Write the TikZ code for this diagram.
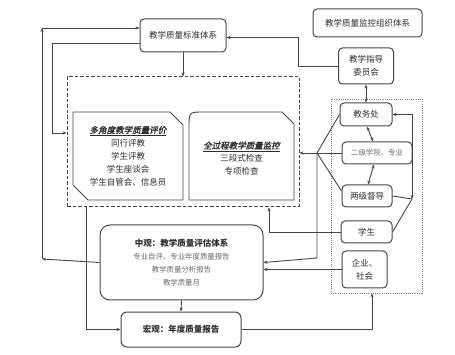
\documentclass[tikz,border=0pt]{standalone}
\usepackage{fontspec}
\setmainfont{Noto Sans CJK SC}
\newfontfamily\slantfont[FakeSlant=0.2,FakeBold=1.5]{Noto Sans CJK SC}
\usetikzlibrary{arrows.meta}
\definecolor{inkgray}{RGB}{70,70,70}
\definecolor{textgray}{RGB}{45,45,45}
\definecolor{subgray}{RGB}{105,105,105}

\begin{document}
\begin{tikzpicture}[x=1pt, y=-1pt,
    box/.style={draw=inkgray, line width=1pt, rounded corners=4pt, align=center, inner sep=0pt, text=textgray, font=\fontsize{8.5}{13}\selectfont},
    boxtext/.style={align=center, inner sep=0pt, text=textgray, font=\fontsize{8.5}{13}\selectfont},
    subtext/.style={text=subgray, font=\fontsize{7.4}{13}\selectfont},
    arr/.style={-{Stealth[length=4pt,width=3.2pt]}, draw=inkgray, line width=0.9pt},
    arrboth/.style={{Stealth[length=4pt,width=3.2pt]}-{Stealth[length=4pt,width=3.2pt]}, draw=inkgray, line width=0.9pt},
    link/.style={draw=inkgray, line width=0.9pt}]
  \useasboundingbox (0,0) rectangle (455,355);
  % frames
  \node[draw=inkgray, line width=1pt, dash pattern=on 3.5pt off 2pt, minimum width=232pt, minimum height=130pt, inner sep=0pt] (evalframe) at (183,142) {};
  \node[draw=gray, line width=0.7pt, dash pattern=on 1pt off 1.2pt, minimum width=91pt, minimum height=194pt, inner sep=0pt] (orgframe) at (376.5,196) {};
  % top boxes
  \node[box, minimum width=86pt, minimum height=33pt] (std) at (183,35.5) {教学质量标准体系};
  \node[box, minimum width=109pt, minimum height=28pt] (org) at (367.5,23) {教学质量监控组织体系};
  \node[box, minimum width=55pt, minimum height=36pt] (comm) at (366,66) {教学指导\\委员会};
  % inner evaluation boxes
  \draw[inkgray, line width=0.9pt] (73,112) -- (170,112) -- (183,125) -- (183,200) -- (88,200) -- (73,185) -- cycle;
  \node[boxtext] (multi) at (128,156) {\underline{\slantfont 多角度教学质量评价}\\同行评教\\学生评教\\学生座谈会\\学生自管会、信息员};
  \draw[inkgray, line width=0.9pt] (189,200) -- (189,127) .. controls (189,112) .. (204,112) -- (282,112) -- (294,124) -- (294,200) -- cycle;
  \node[boxtext] (monitor) at (241.5,158.5) {\underline{\slantfont 全过程教学质量监控}\\三段式检查\\专项检查};
  % organisation
  \node[box, minimum width=52pt, minimum height=23pt] (jwc) at (366,114.5) {教务处};
  \node[box, minimum width=70pt, minimum height=22pt] (college) at (377,153) {\color{subgray}\fontsize{7.4}{13}\selectfont 二级学院、专业};
  \node[box, minimum width=50pt, minimum height=22pt] (supv) at (367,196) {两级督导};
  \node[box, minimum width=51pt, minimum height=22pt] (stu) at (366.5,232) {学生};
  \node[box, minimum width=45pt, minimum height=37pt] (ent) at (364.5,269.5) {企业、\\社会};
  % reports
  \node[box, rounded corners=10pt, minimum width=163pt, minimum height=75pt] (meso) at (181.5,262.5)
    {{\bfseries 中观：教学质量评估体系}\\{\color{subgray}\fontsize{7.4}{13}\selectfont 专业自评、专业年度质量报告}\\{\color{subgray}\fontsize{7.4}{13}\selectfont 教学质量分析报告}\\{\color{subgray}\fontsize{7.4}{13}\selectfont 教学质量月}};
  \node[box, rounded corners=6pt, minimum width=120pt, minimum height=35pt] (macro) at (181,329.5) {\bfseries 宏观：年度质量报告};
  % helper points
  \coordinate (fan) at (317,153);
  \coordinate (loop) at (412,199);
  \coordinate (leftbot) at (42,259);
  \coordinate (lefttop) at (42,28);
  % connectors
  \draw[arr] (std.south) -- (evalframe.north);
  \draw[arr] (comm.west) -- ++(-40,0) |- ([yshift=-2pt]std.east);
  \draw[arrboth] (comm.south) -- (comm.south |- jwc.north);
  \draw[arrboth] ([xshift=1pt]jwc.south) -- ([xshift=-4pt]college.north);
  \draw[arrboth] ([xshift=-3pt]college.south) -- ([xshift=1pt]supv.north);
  \draw[link] (jwc.west) -- (fan);
  \draw[link] (college.west) -- (fan);
  \draw[link] ([yshift=5pt]supv.west) -- (fan);
  \draw[arr] (fan) -- (fan -| evalframe.east);
  \draw[arr] (fan) -- ++(0,105) -- (meso.east);
  \draw[arr] (stu.west) -| ([xshift=86pt]evalframe.south);
  \draw[arr] (ent.west) -- (ent.west -| meso.east);
  \draw[link] (supv.east) -- (loop);
  \draw[link] (stu.east) -- (loop);
  \draw[arrboth] (loop) |- (jwc.east);
  \draw[arr] (meso.south) -- (macro.north);
  \draw[arr] (macro.east) -| ([xshift=-4.5pt]orgframe.south);
  \draw[arr] ([xshift=-97pt]evalframe.south) |- (macro.west);
  \draw[arr] (meso.west) -- (leftbot);
  \draw[arr] (leftbot) -- (lefttop);
  \draw[arr] (lefttop) -- ([yshift=7.5pt]std.west);
  \draw[arr] ([yshift=-7.5pt]std.west) -- ++(-87,0) |- ([yshift=9pt]evalframe.west);
\end{tikzpicture}
\end{document}
